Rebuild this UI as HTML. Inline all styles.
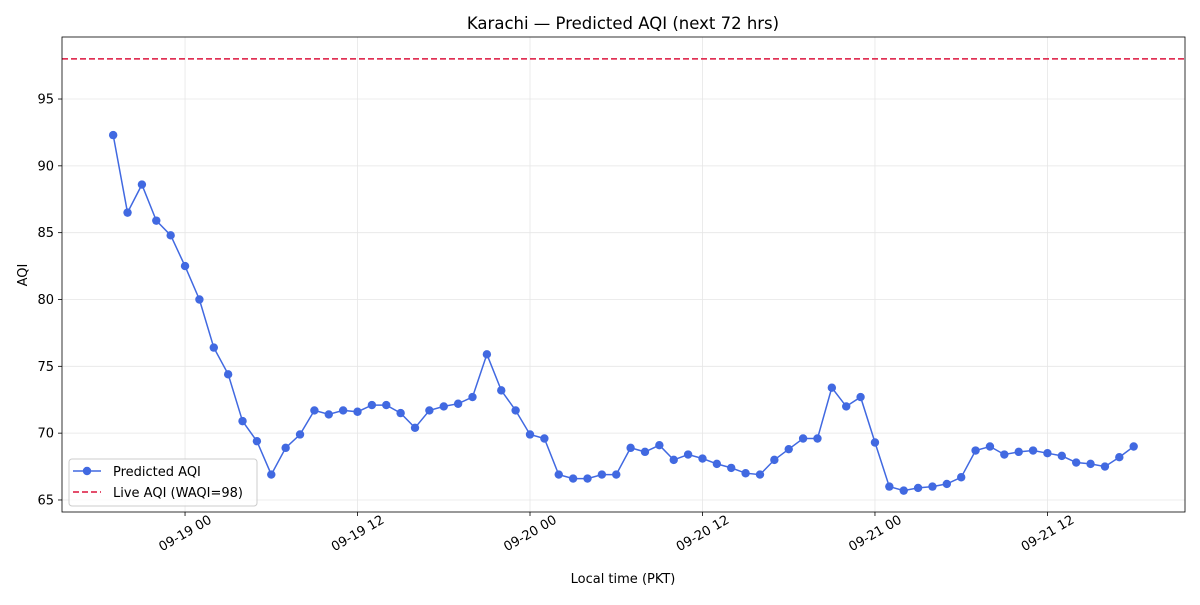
<!DOCTYPE html>
<html><head><meta charset="utf-8"><style>
body{margin:0;background:#fff;font-family:"Liberation Sans","DejaVu Sans",sans-serif}
svg text{font-family:"DejaVu Sans","Liberation Sans",sans-serif;fill:#000}
</style></head><body>
<svg id="chart" width="1200" height="600" xmlns="http://www.w3.org/2000/svg">
<rect width="1200" height="600" fill="#fff"/>
</svg>
<script>
const startHour = -5; // hours relative to 09-19 00:00
const predictedAQI = [92.3,86.5,88.6,85.9,84.8,82.5,80.0,76.4,74.4,70.9,69.4,66.9,68.9,69.9,71.7,71.4,71.7,71.6,72.1,72.1,71.5,70.4,71.7,72.0,72.2,72.7,75.9,73.2,71.7,69.9,69.6,66.9,66.6,66.6,66.9,66.9,68.9,68.6,69.1,68.0,68.4,68.1,67.7,67.4,67.0,66.9,68.0,68.8,69.6,69.6,73.4,72.0,72.7,69.3,66.0,65.7,65.9,66.0,66.2,66.7,68.7,69.0,68.4,68.6,68.7,68.5,68.3,67.8,67.7,67.5,68.2,69.0];
const liveAQI = 98;
const yTicks = [65,70,75,80,85,90,95];
const xTickHours = [0,12,24,36,48,60];
const xTickLabels = ["09-19 00","09-19 12","09-20 00","09-20 12","09-21 00","09-21 12"];

const L=62,R=1185,T=37,B=512;
const xMin=-8.56,xMax=69.57,yMin=64.1,yMax=99.64;
const xs=h=>L+(h-xMin)/(xMax-xMin)*(R-L);
const ys=v=>B-(v-yMin)/(yMax-yMin)*(B-T);
const svg=document.getElementById('chart');
const NS='http://www.w3.org/2000/svg';
function mk(tag,attrs,parent){const e=document.createElementNS(NS,tag);for(const k in attrs)e.setAttribute(k,attrs[k]);(parent||svg).appendChild(e);return e;}

yTicks.forEach(v=>{const g=mk('line',{x1:L,x2:R,y1:ys(v),y2:ys(v),stroke:'#e6e6e6','stroke-width':0.8});

});
xTickHours.forEach(h=>{const g=mk('line',{x1:xs(h),x2:xs(h),y1:T,y2:B,stroke:'#e6e6e6','stroke-width':0.8});

});

const live=mk('line',{x1:L,x2:R,y1:ys(liveAQI),y2:ys(liveAQI),stroke:'#dc143c','stroke-width':1.5,'stroke-dasharray':'6,3'});



const pts=predictedAQI.map((v,i)=>xs(startHour+i).toFixed(1)+','+ys(v).toFixed(1)).join(' ');
const line=mk('polyline',{points:pts,fill:'none',stroke:'#4169e1','stroke-width':1.5});


predictedAQI.forEach((v,i)=>{const c=mk('circle',{cx:xs(startHour+i),cy:ys(v),r:4.2,fill:'#4169e1'});

});

const fr=mk('rect',{x:L,y:T,width:R-L,height:B-T,fill:'none',stroke:'#000','stroke-width':0.8});



yTicks.forEach(v=>{mk('line',{x1:L-4,x2:L,y1:ys(v),y2:ys(v),stroke:'#000','stroke-width':0.8});
const t=mk('text',{x:L-8,y:ys(v)+4.5,'text-anchor':'end','font-size':13});t.textContent=v;

});
xTickHours.forEach((h,i)=>{const x=xs(h);mk('line',{x1:x,x2:x,y1:B,y2:B+4,stroke:'#000','stroke-width':0.8});
const cx=x, cy=B+21;
const t=mk('text',{x:cx,y:cy+4.5,'text-anchor':'middle','font-size':13,transform:`rotate(-30 ${cx} ${cy})`});t.textContent=xTickLabels[i];

});

let t=mk('text',{x:623,y:29,'text-anchor':'middle','font-size':16.5});t.textContent='Karachi — Predicted AQI (next 72 hrs)';


t=mk('text',{x:623,y:583,'text-anchor':'middle','font-size':13});t.textContent='Local time (PKT)';


t=mk('text',{x:27,y:275,'text-anchor':'middle','font-size':13,transform:'rotate(-90 27 275)'});t.textContent='AQI';



const lg=mk('g',{});


mk('rect',{x:69,y:459,width:188,height:47,rx:3,fill:'#fff','fill-opacity':0.8,stroke:'#ccc'},lg);
mk('line',{x1:73,x2:101,y1:471,y2:471,stroke:'#4169e1','stroke-width':1.5},lg);
mk('circle',{cx:87,cy:471,r:4.2,fill:'#4169e1'},lg);
t=mk('text',{x:113,y:476,'font-size':13},lg);t.textContent='Predicted AQI';


mk('line',{x1:73,x2:101,y1:492,y2:492,stroke:'#dc143c','stroke-width':1.5,'stroke-dasharray':'6,3'},lg);
t=mk('text',{x:113,y:497,'font-size':13},lg);t.textContent='Live AQI (WAQI=98)';


</script>
</body></html>
